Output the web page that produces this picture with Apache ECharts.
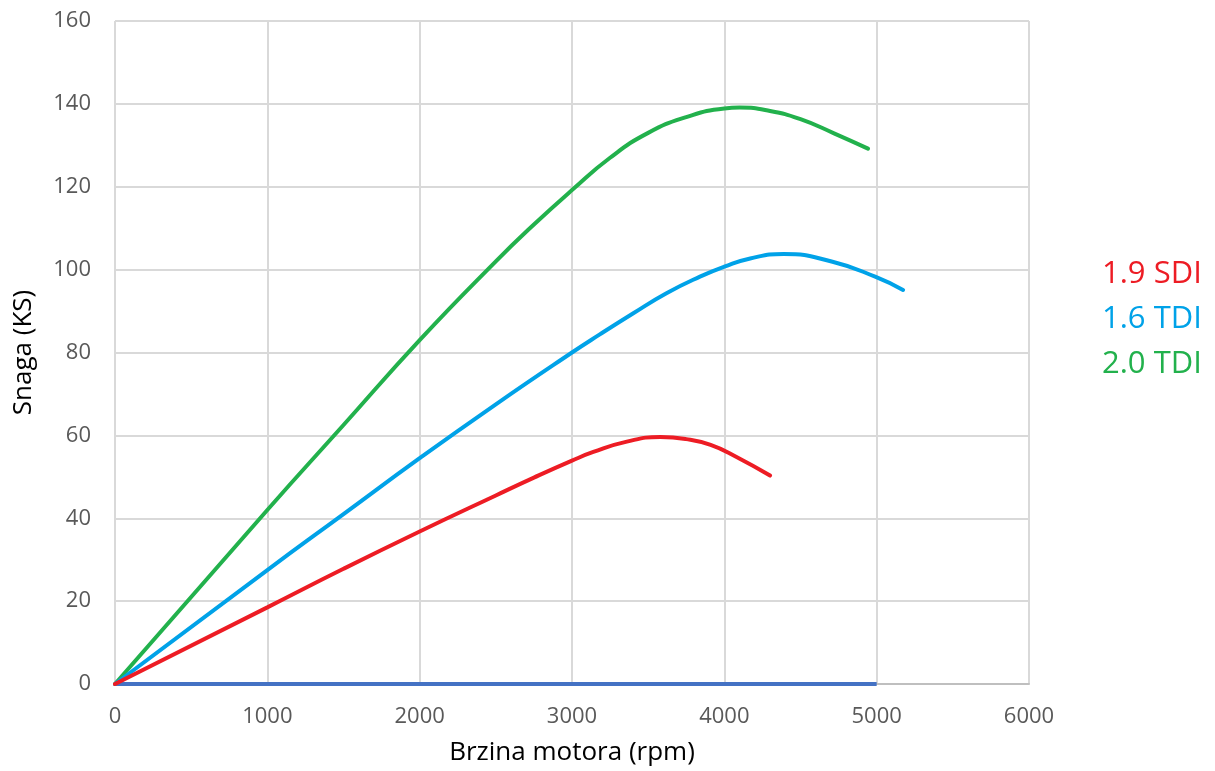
<!DOCTYPE html>
<html>
<head>
<meta charset="utf-8">
<script src="https://cdn.jsdelivr.net/npm/echarts@6/dist/echarts.min.js"></script>
<style>html,body{margin:0;padding:0;background:#fff}#c{width:1215px;height:771px}</style>
</head>
<body>
<div id="c"></div>
<script>
const xTicks = { min: 0, max: 6000, interval: 1000 };
const yTicks = { min: 0, max: 160, interval: 20 };
const seriesNames = ['1.9 SDI', '1.6 TDI', '2.0 TDI'];
const sdiRpm = [0, 1000, 1500, 2000, 2500, 2750, 3000, 3140, 3360, 3580, 3750, 3910, 4080, 4300];
const sdiPower = [0, 18.5, 27.8, 36.8, 45.5, 49.8, 53.9, 56.0, 58.5, 59.6, 59.1, 57.7, 54.8, 50.3];
const tdi16Rpm = [0, 1000, 1500, 2000, 2500, 3000, 3180, 3400, 3620, 3840, 4000, 4170, 4390, 4710, 4990, 5173];
const tdi16Power = [0, 27.5, 41, 54.5, 67.5, 80, 84.3, 89.4, 94.3, 98.3, 100.7, 102.7, 103.8, 101.9, 98.3, 95.1];
const tdi20Rpm = [0, 1000, 1500, 2000, 2500, 2750, 3000, 3250, 3500, 3750, 4000, 4100, 4300, 4500, 4720, 4943];
const tdi20Power = [0, 42, 62.5, 83, 102, 110.9, 119.2, 127, 133, 136.8, 138.9, 139.1, 138.3, 136.3, 132.9, 129.2];
const baseRpm = [0, 5000];
const basePower = [0, 0];

const colors = ['#ED1C24', '#00A2E8', '#22B14C'];
const zip = (a, b) => a.map((v, i) => [v, b[i]]);
const FONT = '"Open Sans", sans-serif';

const chart = echarts.init(document.getElementById('c'));
chart.setOption({
  animation: false,
  backgroundColor: '#fff',
  grid: { left: 115, right: 186, top: 21, bottom: 87 },
  legend: {
    orient: 'vertical', left: 1092, top: 254, icon: 'none', itemWidth: 0, itemHeight: 10, itemGap: 14,
    selectedMode: false,
    textStyle: { fontFamily: FONT, fontSize: 31 },
    data: seriesNames.map((n, i) => ({ name: n, textStyle: { color: colors[i], fontFamily: FONT, fontSize: 31 } }))
  },
  xAxis: {
    type: 'value', min: xTicks.min, max: xTicks.max, interval: xTicks.interval,
    name: 'Brzina motora (rpm)', nameLocation: 'middle', nameGap: 56,
    nameTextStyle: { color: '#000', fontFamily: FONT, fontSize: 26 },
    axisLine: { show: true, onZero: false, lineStyle: { color: '#BFBFBF', width: 2 } },
    axisTick: { show: false },
    axisLabel: { color: '#595959', fontFamily: FONT, fontSize: 22, margin: 22, formatter: v => String(v) },
    splitLine: { show: true, lineStyle: { color: '#D9D9D9', width: 2 } }
  },
  yAxis: {
    type: 'value', min: yTicks.min, max: yTicks.max, interval: yTicks.interval,
    name: 'Snaga (KS)', nameLocation: 'middle', nameGap: 78,
    nameTextStyle: { color: '#000', fontFamily: FONT, fontSize: 26 },
    axisLine: { show: false },
    axisTick: { show: false },
    axisLabel: { color: '#595959', fontFamily: FONT, fontSize: 22, margin: 24, formatter: v => String(v) },
    splitLine: { show: true, lineStyle: { color: '#D9D9D9', width: 2 } }
  },
  series: [
    { name: 'base', type: 'line', data: zip(baseRpm, basePower), showSymbol: false,
      lineStyle: { color: '#4472C4', width: 4 }, itemStyle: { color: '#4472C4' }, z: 1 },
    { name: seriesNames[0], type: 'line', smooth: 0.5, data: zip(sdiRpm, sdiPower), showSymbol: false,
      lineStyle: { color: colors[0], width: 4, cap: 'round' }, itemStyle: { color: colors[0] }, z: 4 },
    { name: seriesNames[1], type: 'line', smooth: 0.5, data: zip(tdi16Rpm, tdi16Power), showSymbol: false,
      lineStyle: { color: colors[1], width: 4, cap: 'round' }, itemStyle: { color: colors[1] }, z: 3 },
    { name: seriesNames[2], type: 'line', smooth: 0.5, data: zip(tdi20Rpm, tdi20Power), showSymbol: false,
      lineStyle: { color: colors[2], width: 4, cap: 'round' }, itemStyle: { color: colors[2] }, z: 2 }
  ]
});
</script>
</body>
</html>
